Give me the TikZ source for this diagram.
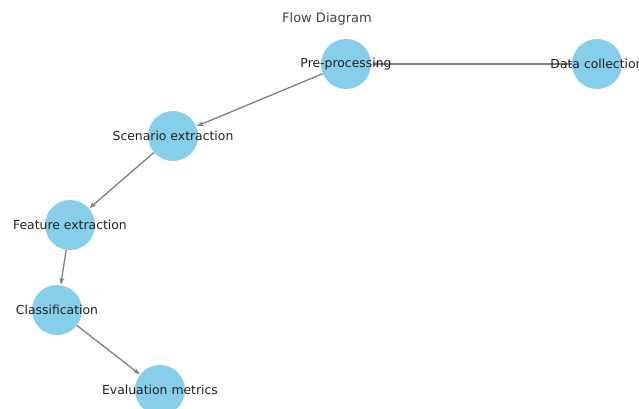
\documentclass[tikz,border=0pt]{standalone}
\usepackage{fontspec}
\setmainfont{DejaVu Sans}
\usetikzlibrary{arrows.meta}
\definecolor{nodeblue}{HTML}{87CEEB}
\definecolor{edgegray}{HTML}{808080}
\definecolor{txt}{HTML}{222222}
\begin{document}
\begin{tikzpicture}[x=1pt,y=-1pt,
  flownode/.style={circle,fill=nodeblue,minimum size=50pt,inner sep=0pt},
  lbl/.style={font=\fontsize{12.4}{14}\selectfont,text=txt,inner sep=0pt},
  edge/.style={draw=edgegray,line width=1.3pt,-{Stealth[length=7pt,width=5pt]},shorten >=0.5pt}]
\useasboundingbox (0,0) rectangle (639,408);
\clip (0,0) rectangle (639,408);
\node[flownode] (pre) at (346,64) {};
\node[flownode] (data) at (597,64) {};
\node[flownode] (scen) at (173,136) {};
\node[flownode] (feat) at (70,225) {};
\node[flownode] (cls) at (57,310) {};
\node[flownode] (eval) at (160,390) {};
\draw[edge] (data) -- (pre);
\draw[edge] (pre) -- (scen);
\draw[edge] (scen) -- (feat);
\draw[edge] (feat) -- (cls);
\draw[edge] (cls) -- (eval);
\node[lbl] (tpre) at (346,64) {Pre-processing};
\node[lbl] (tdata) at (597,64) {Data collection};
\node[lbl] (tscen) at (173,136) {Scenario extraction};
\node[lbl] (tfeat) at (70,225) {Feature extraction};
\node[lbl] (tcls) at (57,310) {Classification};
\node[lbl] (teval) at (160,390) {Evaluation metrics};
\node[font=\fontsize{13}{15}\selectfont,text=black!75,inner sep=0pt] (title) at (327,19) {Flow Diagram};
\end{tikzpicture}
\end{document}
